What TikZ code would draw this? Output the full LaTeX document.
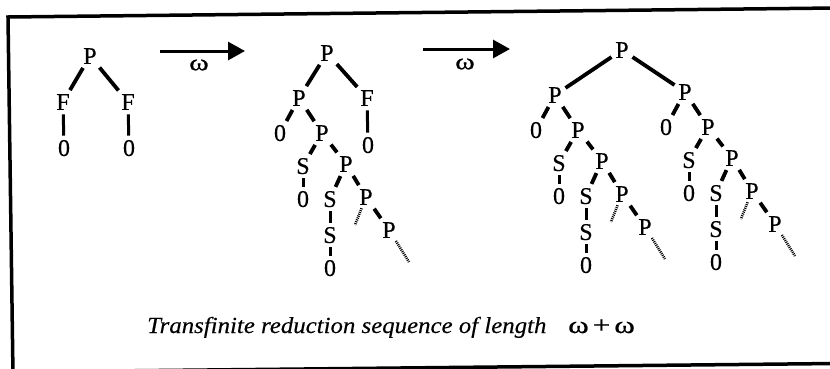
\documentclass[tikz,border=0pt]{standalone}
\usepackage{fontspec}
\setmainfont{Liberation Serif}
\newfontfamily\treefont[FakeBold=0.3]{Liberation Serif}
\newfontfamily\capfont[FakeStretch=1.08,FakeBold=0.3]{Liberation Serif}
\newfontfamily\omfont[FakeStretch=1.3,FakeBold=0.6]{Liberation Serif}
\usetikzlibrary{arrows.meta}
\tikzset{
  lbl/.style={font=\treefont\fontsize{24}{24}\selectfont, inner sep=0.3pt, text height=15.9pt, text depth=0pt},
  edge/.style={line width=3.8pt, shorten >=4pt, shorten <=4pt},
  vedge/.style={line width=3pt, shorten >=4pt, shorten <=4pt},
  dots/.style={line width=2.6pt, dash pattern=on 1pt off 1pt, shorten <=3pt},
  bigarrow/.style={line width=3pt, -{Triangle[length=17pt,width=18pt]}},
  omlbl/.style={font=\omfont\fontsize{23}{23}\selectfont, inner sep=0pt},
  sub/.pic={
    \node[lbl] (-r) at (0,0) {P};
    \node[lbl] (-z) at (-19,35) {0};
    \node[lbl] (-p2) at (23,35) {P};
    \node[lbl] (-s1) at (4,68) {S};
    \node[lbl] (-z1) at (4,101) {0};
    \node[lbl] (-p3) at (47,66) {P};
    \node[lbl] (-s2) at (31,101) {S};
    \node[lbl] (-s3) at (31,137) {S};
    \node[lbl] (-z2) at (31,170) {0};
    \node[lbl] (-p4) at (67,99) {P};
    \node[lbl] (-p5) at (90,132) {P};
    \coordinate (-d1) at (56,127);
    \coordinate (-d2) at (110,164);
    \draw[edge] (-r) -- (-z);
    \draw[edge] (-r) -- (-p2);
    \draw[edge] (-p2) -- (-s1);
    \draw[edge] (-p2) -- (-p3);
    \draw[vedge] (-s1) -- (-z1);
    \draw[edge] (-p3) -- (-s2);
    \draw[edge] (-p3) -- (-p4);
    \draw[vedge] (-s2) -- (-s3);
    \draw[vedge] (-s3) -- (-z2);
    \draw[edge] (-p4) -- (-p5);
    \draw[dots] (-p4) -- (-d1);
    \draw[dots] (-p5) -- (-d2);
  }
}
\begin{document}
\begin{tikzpicture}[x=1pt,y=-1pt]
\useasboundingbox (0,0) rectangle (830,368);
\clip (0,0) rectangle (830,368);
% frame
\draw[line width=3.5pt] (835,8) -- (8,17) -- (13,375);
\draw[line width=3.5pt] (13,372) -- (835,363.5);

% tree 1
\node[lbl] (t1p) at (90,56) {P};
\node[lbl] (t1f1) at (63,102) {F};
\node[lbl] (t1f2) at (128,102) {F};
\node[lbl] (t1z1) at (64,148) {0};
\node[lbl] (t1z2) at (129,148) {0};
\draw[edge] (t1p) -- (t1f1);
\draw[edge] (t1p) -- (t1f2);
\draw[vedge] (t1f1) -- (t1z1);
\draw[vedge] (t1f2) -- (t1z2);

% arrow 1
\coordinate (a1s) at (160,51);
\coordinate (a1e) at (245,51);
\draw[bigarrow] (a1s) -- (a1e);
\node[omlbl] (om1) at (199,65) {ω};

% tree 2
\node[lbl] (t2p) at (327,53) {P};
\pic (A) at (299,98) {sub};
\node[lbl] (t2f) at (367,98) {F};
\node[lbl] (t2z) at (368,145) {0};
\draw[edge] (t2p) -- (A-r);
\draw[edge] (t2p) -- (t2f);
\draw[vedge] (t2f) -- (t2z);

% arrow 2
\coordinate (a2s) at (423,49);
\coordinate (a2e) at (510,49);
\draw[bigarrow] (a2s) -- (a2e);
\node[omlbl] (om2) at (465,64) {ω};

% tree 3
\node[lbl] (t3p) at (622,50) {P};
\pic (L) at (555,95) {sub};
\pic (R) at (685,92) {sub};
\draw[edge] (t3p) -- (L-r);
\draw[edge] (t3p) -- (R-r);

% caption
\node[font=\capfont\itshape\fontsize{23}{23}\selectfont, anchor=base west, inner sep=0pt] (cap) at (147,333) {Transfinite reduction sequence of length};
\node[font=\omfont\fontsize{24}{24}\selectfont, anchor=base west, inner sep=0pt] (len) at (568,333) {ω\,+\,ω};
\end{tikzpicture}
\end{document}
